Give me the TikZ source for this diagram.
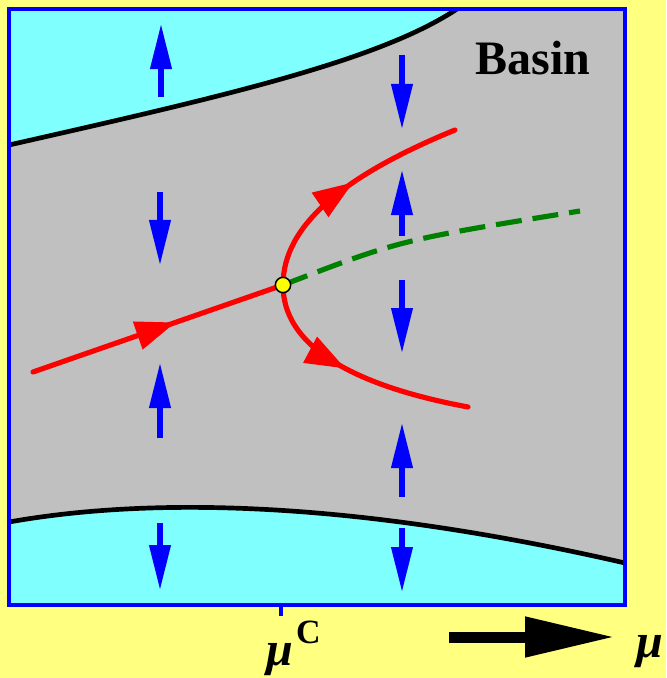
\documentclass[tikz,border=0pt]{standalone}
\usepackage{fontspec}
\setmainfont{Liberation Serif}
\usetikzlibrary{arrows.meta, positioning, decorations.markings}
\definecolor{paperyellow}{RGB}{255,255,128}
\definecolor{basincyan}{RGB}{128,255,255}
\definecolor{basingray}{RGB}{192,192,192}
\definecolor{flowblue}{RGB}{0,0,255}
\definecolor{branchred}{RGB}{255,0,0}
\definecolor{saddlegreen}{RGB}{0,128,0}
\definecolor{pointyellow}{RGB}{255,255,0}

\begin{document}
\begin{tikzpicture}[
    x=0.03cm, y=-0.03cm,
    boundary/.style={draw=black, line width=4pt},
    frameline/.style={draw=flowblue, line width=3.4pt},
    flowarrow/.style={flowblue, line width=4.4pt, -{Triangle[length=1.35cm, width=0.62cm]}},
    branch/.style={branchred, line width=4.4pt, line cap=round, postaction={decorate},
        decoration={markings, mark=at position #1 with {\arrow{Triangle[length=1.2cm, width=0.85cm]}}}},
    branch/.default=0.5,
    unstable/.style={saddlegreen, line width=4.4pt, dash pattern=on 0.78cm off 0.33cm},
    bifpoint/.style={circle, draw=black, fill=pointyellow, line width=1.3pt, minimum size=0.46cm, inner sep=0pt},
    axisarrow/.style={black, line width=0.33cm, -{Triangle[length=2.7cm, width=1.14cm]}}
]

% page and basin
\fill[paperyellow] (0,0) rectangle (666,678);
\useasboundingbox (0,0) rectangle (666,678);
\fill[basingray] (9,9) rectangle (625,605);
\fill[basincyan] (9,9) -- (9,145) .. controls (230,95) and (380,60) .. (457,9) -- cycle;
\fill[basincyan] (9,522) .. controls (150,497) and (350,500) .. (625,563) -- (625,605) -- (9,605) -- cycle;
\draw[boundary] (9,145) .. controls (230,95) and (380,60) .. (457,9);
\draw[boundary] (9,522) .. controls (150,497) and (350,500) .. (625,563);
\draw[frameline] (9,9) rectangle (625,605);

% flow towards / away from the branches
\foreach \x/\ys/\ye in {161/97/24, 160/192/265, 160/438/363, 160/523/590,
    402/55/129, 402/236/170, 402/280/353, 402/497/423, 402/528/592}
    \draw[flowarrow] (\x,\ys) -- (\x,\ye);

% branches
\coordinate (bif) at (283,285);
\coordinate (inflow) at (33,372);
\coordinate (upend) at (455,130);
\coordinate (lowend) at (468,407);
\coordinate (greenend) at (580,211);
\draw[branch=0.57] (inflow) -- (bif);
\draw[branch=0.53] (bif) .. controls (283,225) and (345,175) .. (upend);
\draw[branch=0.46] (bif) .. controls (283,345) and (350,385) .. (lowend);
\draw[unstable] (bif) .. controls (400,240) .. (greenend);
\node[bifpoint] (bp) at (bif) {};

% labels
\node[anchor=base, font=\fontsize{41}{41}\selectfont\bfseries, inner sep=0pt] (basin) at (533,75) {Basin};

\coordinate (tick) at (281,605);
\draw[frameline, line width=2.6pt] (tick) -- ++(0,11);
\node[anchor=base, font=\fontsize{41}{41}\selectfont\bfseries\itshape, inner sep=0pt] (muc) at (280,665) {μ};
\node[anchor=base west, font=\fontsize{29}{29}\selectfont\bfseries, inner sep=0pt] (supc) at (296,643) {C};

\coordinate (axstart) at (449,637);
\coordinate (axend) at (615,637);
\draw[axisarrow] (axstart) -- (axend);
\node[anchor=base, font=\fontsize{41}{41}\selectfont\bfseries\itshape, inner sep=0pt] (mu) at (650,657) {μ};

\end{tikzpicture}
\end{document}
